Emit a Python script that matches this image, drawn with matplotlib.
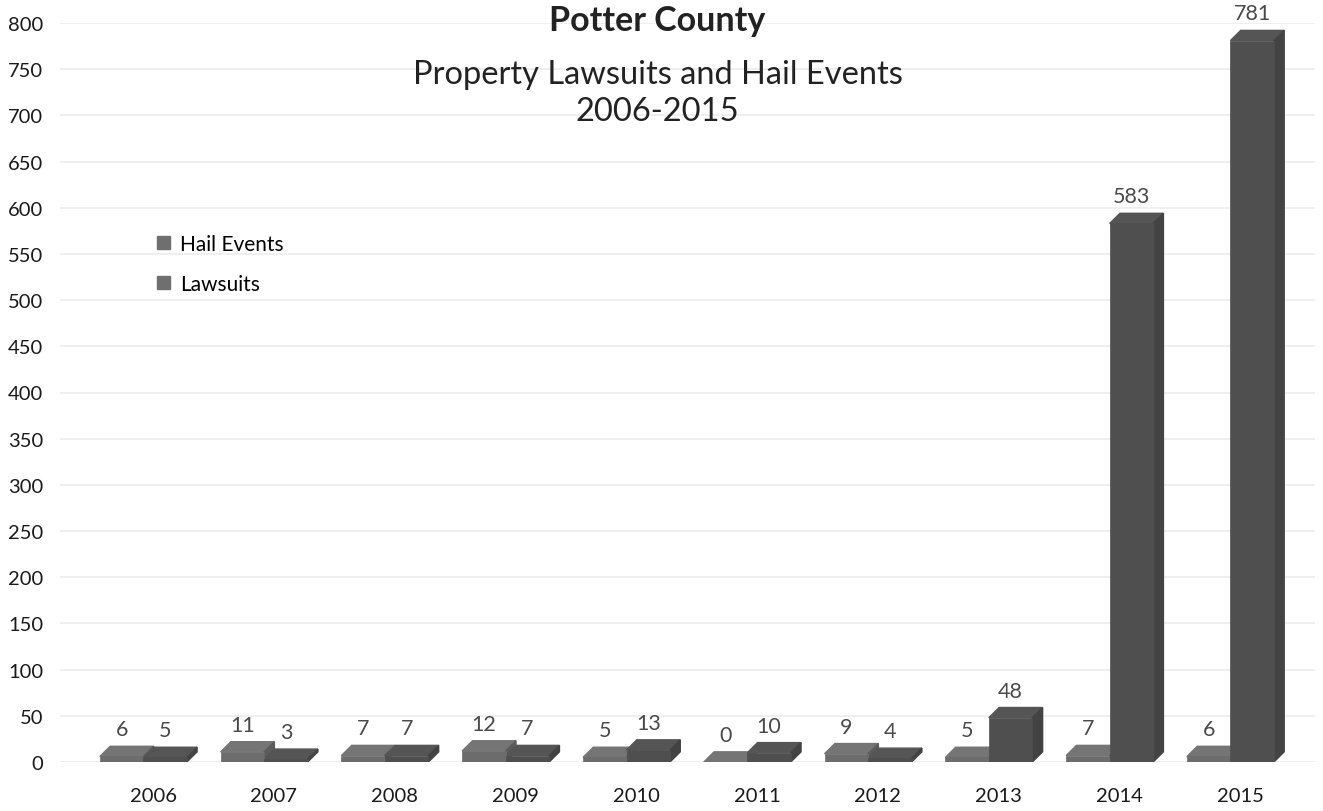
import numpy as np
import matplotlib
matplotlib.use('Agg')
import matplotlib.pyplot as plt
from matplotlib.patches import Polygon, Patch

plt.rcParams['font.family'] = ['Lato', 'DejaVu Sans']

#Werte
years = ['2006', '2007', '2008', '2009', '2010', '2011', '2012', '2013', '2014', '2015']
hail = [6, 11, 7, 12, 5, 0, 9, 5, 7, 6]
lawsuits = [5, 3, 7, 7, 13, 10, 4, 48, 583, 781]

x = np.arange(len(years))
w = 0.36
shift = -0.08
dx, dy = 0.085, 11.0   # fake depth of the bars (x units, value units)

col_hail = '#6c6c6c'
col_law = '#4f4f4f'

fig = plt.figure(figsize=(13.23, 8.12), dpi=100)
ax = fig.add_axes([60/1323, 49/812, 1255/1323, 739/812])

def shade(c, f):
    r, g, b = matplotlib.colors.to_rgb(c)
    return (r*f, g*f, b*f)

def bars3d(xpos, vals, col):
    bars = ax.bar(xpos, vals, w, color=col, edgecolor=col, linewidth=0.5, zorder=3)
    for b in bars:
        x0 = b.get_x()
        x1 = x0 + b.get_width()
        h = b.get_height()
        top = Polygon([(x0, h), (x1, h), (x1+dx, h+dy), (x0+dx, h+dy)],
                      closed=True, color=shade(col, 1.08), zorder=2)
        side = Polygon([(x1, 0), (x1+dx, dy), (x1+dx, h+dy), (x1, h)],
                       closed=True, color=shade(col, 0.85), zorder=2)
        ax.add_patch(top)
        ax.add_patch(side)
    return bars

b1 = bars3d(x + shift - w/2, hail, col_hail)
b2 = bars3d(x + shift + w/2, lawsuits, col_law)

# Werte über den Balken
for bars, vals in ((b1, hail), (b2, lawsuits)):
    for b, v in zip(bars, vals):
        ax.annotate(str(v), (b.get_x() + b.get_width()/2, v + dy),
                    xytext=(0, 5), textcoords='offset points',
                    ha='center', va='bottom', fontsize=15.5, color='#4a4a4a')

ax.set_xlim(-0.77, 9.62)
ax.set_ylim(0, 800)
ax.set_yticks(np.arange(0, 801, 50))
ax.set_xticks(x)
ax.set_xticklabels(years)
ax.tick_params(axis='both', length=0, labelsize=14.5, colors='#1a1a1a')
ax.tick_params(axis='x', pad=18)
ax.tick_params(axis='y', pad=12)
for lbl in ax.get_yticklabels():
    lbl.set_horizontalalignment('right')
ax.grid(axis='y', color='#ececec', linewidth=1.2, zorder=0)
ax.set_axisbelow(True)
for s in ax.spines.values():
    s.set_visible(False)

# Titel
fig.text(0.497, 1 - 21/812, 'Potter County', ha='center', va='center',
         fontsize=24.5, fontweight='bold', color='#222222')
fig.text(0.497, 1 - 75/812, 'Property Lawsuits and Hail Events', ha='center', va='center',
         fontsize=23.5, color='#222222')
fig.text(0.497, 1 - 112/812, '2006-2015', ha='center', va='center',
         fontsize=23.5, color='#222222')

handles = [Patch(color='#6f6f6f', label='Hail Events'),
           Patch(color='#6f6f6f', label='Lawsuits')]
fig.legend(handles=handles, loc='upper left', bbox_to_anchor=(157/1323, 1 - 235/812),
           frameon=False, fontsize=15, handlelength=0.6, handleheight=0.6,
           handletextpad=0.5, labelspacing=0.95, borderpad=0, borderaxespad=0)

fig.savefig('out.png', dpi=100)
